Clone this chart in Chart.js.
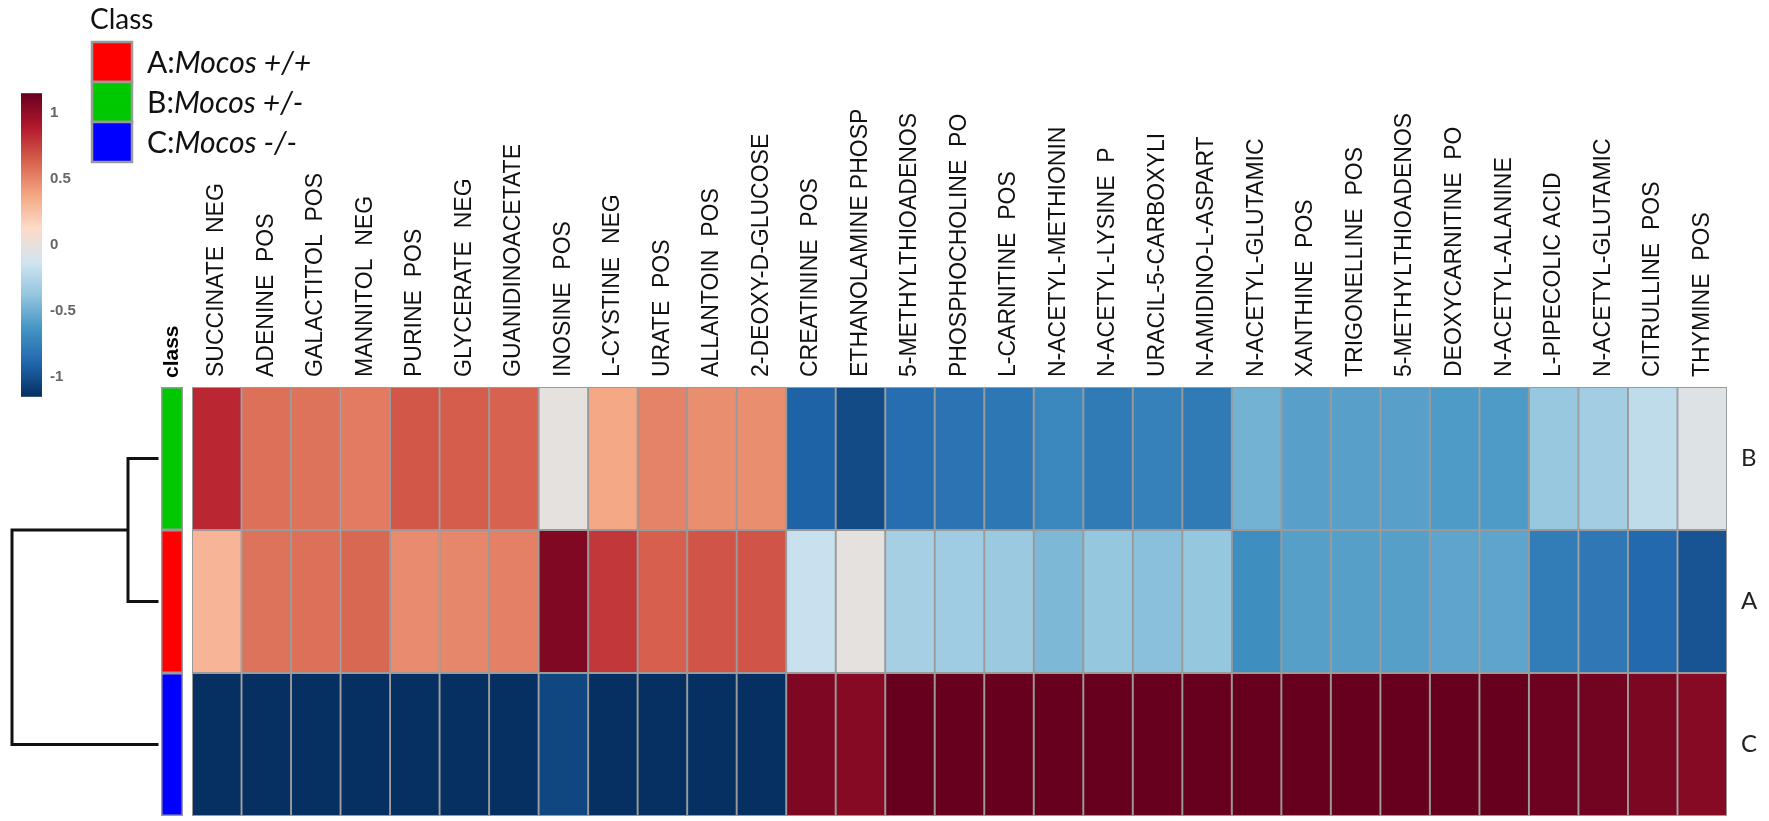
<!DOCTYPE html>
<html>
<head>
<meta charset="utf-8">
<title>Class-average heatmap</title>
<script src="https://cdn.jsdelivr.net/npm/chart.js@4.4.1/dist/chart.umd.min.js"></script>
<style>
    html, body { margin: 0; padding: 0; background: #fff; }
    #wrap { width: 1769px; height: 821px; }
</style>
</head>
<body>
<div id="wrap"><canvas id="heatmap" width="1769" height="821"></canvas></div>
<script>
// column (feature) names, left to right
const metabolites = [
    'SUCCINATE  NEG', 'ADENINE  POS', 'GALACTITOL  POS', 'MANNITOL  NEG', 'PURINE  POS',
    'GLYCERATE  NEG', 'GUANIDINOACETATE', 'INOSINE  POS', 'L-CYSTINE  NEG', 'URATE  POS',
    'ALLANTOIN  POS', '2-DEOXY-D-GLUCOSE', 'CREATININE  POS', 'ETHANOLAMINE PHOSP',
    '5-METHYLTHIOADENOS', 'PHOSPHOCHOLINE  PO', 'L-CARNITINE  POS', 'N-ACETYL-METHIONIN',
    'N-ACETYL-LYSINE  P', 'URACIL-5-CARBOXYLI', 'N-AMIDINO-L-ASPART', 'N-ACETYL-GLUTAMIC',
    'XANTHINE  POS', 'TRIGONELLINE  POS', '5-METHYLTHIOADENOS', 'DEOXYCARNITINE  PO',
    'N-ACETYL-ALANINE', 'L-PIPECOLIC ACID', 'N-ACETYL-GLUTAMIC', 'CITRULLINE  POS', 'THYMINE  POS'
];

// rows, top to bottom (dendrogram order)
const rowNames = ['B', 'A', 'C'];

const rowB = [
    0.84, 0.58, 0.57, 0.54, 0.67, 0.65, 0.63, -0.02, 0.37, 0.51, 0.47, 0.47,
    -0.91, -1.02, -0.85, -0.82, -0.80, -0.70, -0.78, -0.74, -0.78,
    -0.48, -0.57, -0.57, -0.57, -0.60, -0.60, -0.36, -0.32, -0.20, -0.06
];
const rowA = [
    0.31, 0.57, 0.58, 0.61, 0.48, 0.50, 0.52, 1.06, 0.78, 0.64, 0.68, 0.68,
    -0.16, -0.02, -0.30, -0.33, -0.35, -0.45, -0.37, -0.41, -0.37,
    -0.67, -0.58, -0.58, -0.58, -0.55, -0.55, -0.77, -0.79, -0.88, -0.98
];
const rowC = [
    -1.15, -1.15, -1.15, -1.15, -1.15, -1.15, -1.15, -1.04, -1.15, -1.15, -1.15, -1.15,
    1.07, 1.04, 1.15, 1.15, 1.15, 1.15, 1.15, 1.15, 1.15,
    1.15, 1.15, 1.15, 1.15, 1.15, 1.15, 1.13, 1.11, 1.08, 1.04
];

const legendClasses = ['A', 'B', 'C'];
const classGenotypes = ['Mocos +/+', 'Mocos +/-', 'Mocos -/-'];
const colorbarTicks = [1, 0.5, 0, -0.5, -1];
// cluster merge heights: B with A, then (B,A) with C
const mergeHeights = [0.2, 1.0];

const rowValues = [rowB, rowA, rowC];
const classColors = { A: '#ff0000', B: '#00c800', C: '#0000ff' };
const palette = ['#053061', '#2166ac', '#4393c3', '#92c5de', '#d1e5f0',
                 '#fddbc7', '#f4a582', '#d6604d', '#b2182b', '#67001f'];
const rgbPalette = palette.map(hex => [1, 3, 5].map(i => parseInt(hex.substr(i, 2), 16)));
const colorMax = Math.max(...rowValues.flat().map(Math.abs));

function colorFor(v) {
    let t = (v + colorMax) / (2 * colorMax);
    t = Math.min(1, Math.max(0, t)) * (palette.length - 1);
    const i = Math.min(Math.floor(t), palette.length - 2);
    const f = t - i;
    const a = rgbPalette[i], b = rgbPalette[i + 1];
    const c = a.map((x, k) => Math.round(x + (b[k] - x) * f));
    return `rgb(${c[0]}, ${c[1]}, ${c[2]})`;
}

const gridGray = '#9a9a9a';
const labelFont = '23px "Liberation Sans", Arial, sans-serif';

const decorPlugin = {
    id: 'decor',
    afterDraw(chart) {
        const { ctx, chartArea } = chart;
        const x = chart.scales.x;
        const y = chart.scales.y;
        const n = rowNames.length;
        const rowTop = i => y.getPixelForValue(n - i);
        const rowBottom = i => y.getPixelForValue(n - i - 1);
        const rowMid = i => y.getPixelForValue(n - i - 0.5);

        ctx.save();

        // column labels, read bottom to top, centred on each column
        ctx.font = labelFont;
        ctx.fillStyle = '#111';
        ctx.textAlign = 'left';
        ctx.textBaseline = 'middle';
        x.getLabels().forEach((label, i) => {
            ctx.save();
            ctx.translate(x.getPixelForValue(i), chartArea.top - 10);
            ctx.rotate(-Math.PI / 2);
            ctx.fillText(label, 0, 0);
            ctx.restore();
        });

        // class side bar
        const barL = chartArea.left - 31, barW = 22;
        rowNames.forEach((name, i) => {
            ctx.fillStyle = gridGray;
            ctx.fillRect(barL, rowTop(i), barW, rowBottom(i) - rowTop(i));
            ctx.fillStyle = classColors[name];
            ctx.fillRect(barL + 1.5, rowTop(i) + 1.5, barW - 3, rowBottom(i) - rowTop(i) - 3);
        });
        ctx.save();
        ctx.translate(barL + barW / 2, chartArea.top - 9);
        ctx.rotate(-Math.PI / 2);
        ctx.font = 'bold 21px "Liberation Sans", Arial, sans-serif';
        ctx.fillStyle = '#000';
        ctx.fillText('class', 0, 0);
        ctx.restore();

        // dendrogram
        const leafX = barL - 4;
        const rootX = 12;
        const unit = (leafX - rootX) / mergeHeights[mergeHeights.length - 1];
        const innerX = leafX - mergeHeights[0] * unit;
        const yB = rowMid(0), yA = rowMid(1), yC = rowMid(2);
        const innerY = (yB + yA) / 2;
        ctx.strokeStyle = '#111';
        ctx.lineWidth = 3;
        ctx.lineCap = 'square';
        ctx.beginPath();
        ctx.moveTo(leafX, yB); ctx.lineTo(innerX, yB); ctx.lineTo(innerX, yA); ctx.lineTo(leafX, yA);
        ctx.moveTo(innerX, innerY); ctx.lineTo(rootX, innerY); ctx.lineTo(rootX, yC); ctx.lineTo(leafX, yC);
        ctx.stroke();

        // colour key
        const zeroY = 245, perUnit = 132;
        const cbL = 21, cbW = 21;
        const cbTop = zeroY - colorMax * perUnit, cbBottom = zeroY + colorMax * perUnit;
        const grad = ctx.createLinearGradient(0, cbTop, 0, cbBottom);
        palette.slice().reverse().forEach((c, k) => grad.addColorStop(k / (palette.length - 1), c));
        ctx.fillStyle = grad;
        ctx.fillRect(cbL, cbTop, cbW, cbBottom - cbTop);
        ctx.font = 'bold 15px "Liberation Sans", Arial, sans-serif';
        ctx.fillStyle = '#666';
        ctx.textAlign = 'left';
        ctx.textBaseline = 'middle';
        colorbarTicks.forEach(v => ctx.fillText(String(v), 50, zeroY - v * perUnit));

        // class legend
        ctx.fillStyle = '#111';
        ctx.textBaseline = 'alphabetic';
        ctx.font = '28px Lato, "Open Sans", sans-serif';
        ctx.fillText('Class', 90, 29);
        const swL = 92, swW = 40, swTop = 42, swH = 40;
        legendClasses.forEach((name, i) => {
            const top = swTop + i * swH;
            ctx.fillStyle = classColors[name];
            ctx.fillRect(swL, top, swW, swH);
            ctx.strokeStyle = gridGray;
            ctx.lineWidth = 2.5;
            ctx.strokeRect(swL, top, swW, swH);
            ctx.fillStyle = '#111';
            ctx.textBaseline = 'middle';
            ctx.font = '30px Lato, "Open Sans", sans-serif';
            const prefix = `${name}:`;
            ctx.fillText(prefix, 147, top + swH / 2 + 1);
            const w = ctx.measureText(prefix).width;
            ctx.font = 'italic 30px Lato, "Open Sans", sans-serif';
            ctx.fillText(classGenotypes[i], 147 + w, top + swH / 2 + 1);
        });

        ctx.restore();
    }
};

const datasets = rowValues.map((values, i) => ({
    label: rowNames[i],
    data: values.map(() => [rowNames.length - i - 1, rowNames.length - i]),
    backgroundColor: values.map(colorFor),
    borderColor: gridGray,
    borderWidth: 1.3,
    borderSkipped: false,
    grouped: false,
    barPercentage: 1,
    categoryPercentage: 1
}));

new Chart(document.getElementById('heatmap'), {
    type: 'bar',
    data: { labels: metabolites, datasets },
    options: {
        responsive: false,
        devicePixelRatio: 1,
        animation: false,
        layout: { padding: { left: 192, right: 0, top: 0, bottom: 5 } },
        plugins: { legend: { display: false }, tooltip: { enabled: false } },
        scales: {
            x: {
                type: 'category',
                position: 'top',
                offset: true,
                grid: { display: false, drawTicks: false },
                border: { display: false },
                // labels are drawn rotated by the decor plugin
                ticks: { display: false, autoSkip: false },
                afterFit(scale) {
                    scale.height = 387;
                    scale.paddingLeft = 0;
                    scale.paddingRight = 0;
                }
            },
            y: {
                type: 'linear',
                position: 'right',
                min: 0,
                max: rowNames.length,
                grid: { display: false, drawTicks: false },
                border: { display: false },
                afterBuildTicks(scale) {
                    scale.ticks = rowNames.map((_, i) => ({ value: rowNames.length - i - 0.5 }));
                },
                ticks: {
                    padding: 14,
                    color: '#222',
                    font: { family: 'Lato, "Open Sans", sans-serif', size: 24 },
                    callback: value => rowNames[Math.floor(rowNames.length - value)]
                },
                afterFit(scale) {
                    scale.width = 42;
                    scale.paddingTop = 0;
                    scale.paddingBottom = 0;
                }
            }
        }
    },
    plugins: [decorPlugin]
});
</script>
</body>
</html>
